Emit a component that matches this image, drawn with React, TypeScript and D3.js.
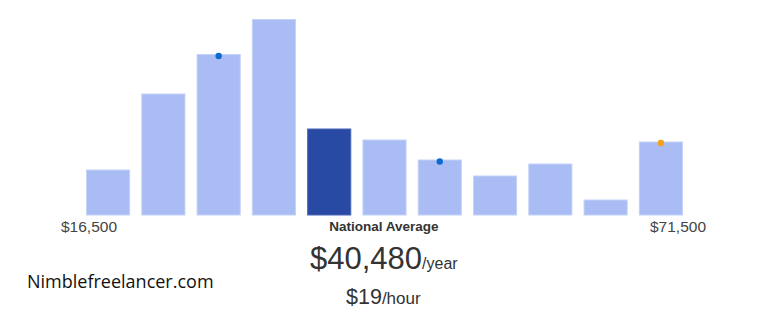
import React from "react";
import * as d3 from "d3";

const categories = ["b1", "b2", "b3", "b4", "b5", "b6", "b7", "b8", "b9", "b10", "b11"];
const values = [45, 121, 160.5, 195.5, 86, 75, 55, 39, 51, 15, 73];
const highlightIndex = 4;
const markerPoints = [
  { cat: "b3", value: 159, kind: "blue" },
  { cat: "b7", value: 53.5, kind: "blue" },
  { cat: "b11", value: 72, kind: "orange" },
];
const minLabel = "$16,500";
const maxLabel = "$71,500";
const avgTitle = "National Average";
const avgYear = "$40,480";
const avgHour = "$19";
const watermark = "Nimblefreelancer.com";

const W = 768;
const H = 318;

export default function App() {
  const x = d3.scaleBand<string>().domain(categories).range([81, 688]).paddingInner(0.22).paddingOuter(0.1);
  const y = d3.scaleLinear().domain([0, 200]).range([215, 15]);
  const light = "#a9bcf3";
  const dark = "#2849a4";
  const font = "'Liberation Sans', Arial, sans-serif";
  return (
    <svg width={W} height={H} style={{ position: "absolute", left: 0, top: 0, background: "#fff" }}>
      {categories.map((c, i) => (
        <rect
          key={c}
          x={x(c)}
          y={y(values[i])}
          width={x.bandwidth()}
          height={y(0) - y(values[i])}
          fill={i === highlightIndex ? dark : light}
          stroke={i === highlightIndex ? "#4a66b5" : "#c5d2f7"}
          strokeWidth={1}
        />
      ))}
      {markerPoints.map((m, i) => (
        <circle
          key={i}
          cx={(x(m.cat) as number) + x.bandwidth() / 2}
          cy={y(m.value)}
          r={3.2}
          fill={m.kind === "orange" ? "#f6a11a" : "#0b6bd3"}
        />
      ))}
      <text x={61} y={232} fontFamily={font} fontSize={15.5} fill="#444">{minLabel}</text>
      <text x={706} y={232} textAnchor="end" fontFamily={font} fontSize={15.5} fill="#444">{maxLabel}</text>
      <text x={384} y={231} textAnchor="middle" fontFamily={font} fontSize={13.5} fontWeight="bold" fill="#333">{avgTitle}</text>
      <text x={310} y={269} fontFamily={font} fill="#333">
        <tspan fontSize={31}>{avgYear}</tspan>
        <tspan fontSize={16}>/year</tspan>
      </text>
      <text x={346} y={304} fontFamily={font} fill="#333">
        <tspan fontSize={21.5}>{avgHour}</tspan>
        <tspan fontSize={17}>/hour</tspan>
      </text>
      <text x={27} y={288} fontFamily="'Open Sans', sans-serif" fontSize={18} fill="#111">{watermark}</text>
    </svg>
  );
}
